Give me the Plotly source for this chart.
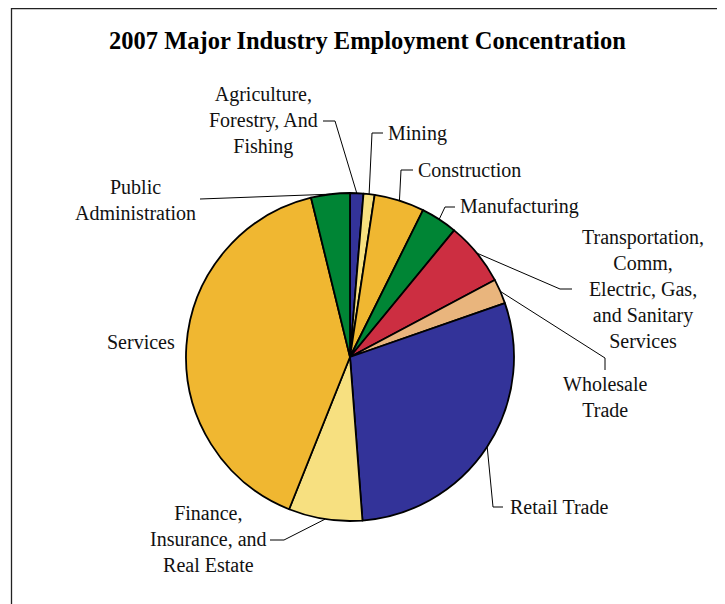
import math
import plotly.graph_objects as go

# ---------------- data ----------------
categories = [
    "Agriculture, Forestry, And Fishing",
    "Mining",
    "Construction",
    "Manufacturing",
    "Transportation, Comm, Electric, Gas, and Sanitary Services",
    "Wholesale Trade",
    "Retail Trade",
    "Finance, Insurance, and Real Estate",
    "Services",
    "Public Administration",
]
shares = [1.31, 1.09, 4.93, 3.60, 6.25, 2.45, 29.06, 7.25, 40.05, 3.81]
label_text = [
    "Agriculture,<br>Forestry, And<br>Fishing",
    "Mining",
    "Construction",
    "Manufacturing",
    "Transportation,<br>Comm,<br>Electric, Gas,<br>and Sanitary<br>Services",
    "Wholesale<br>Trade",
    "Retail Trade",
    "Finance,<br>Insurance, and<br>Real Estate",
    "Services",
    "Public<br>Administration",
]
colors = ["#333399", "#F7E080", "#F0B731", "#008535", "#CC2E41",
          "#E9B57D", "#333399", "#F7E080", "#F0B731", "#008535"]
title = "2007 Major Industry Employment Concentration"

# ---------------- layout (pixels, in screen coordinates) ----------------
W, H = 725, 604
OFF = 8  # page body margin
CX, CY, R = 350, 357, 164

# label placement: (x, y, xanchor, align)
label_pos = [
    (263, 120, "center", "center"),
    (386, 133, "left", "left"),
    (416, 170, "left", "left"),
    (458, 207, "left", "left"),
    (643, 289, "center", "center"),
    (605, 397, "center", "center"),
    (508, 507, "left", "left"),
    (208, 539, "center", "center"),
    (141, 342, "center", "center"),
    (135, 200, "center", "center"),
]
# leader line elbow points (after the anchor on the pie edge)
elbows = [
    [(335, 121), (323, 121)],
    [(372, 133), (383, 133)],
    [(401, 170), (413, 170)],
    [(445, 207), (455, 207)],
    [(560, 289), (572, 289)],
    [(605, 358), (605, 370)],
    [(493, 507), (503, 507)],
    [(284, 540), (270, 540)],
    None,
    [(200, 199)],
]


def px(x):
    return (x - OFF) / W


def py(y):
    return 1 - (y - OFF) / H


fig = go.Figure()
fig.add_trace(go.Pie(
    labels=categories,
    values=shares,
    sort=False,
    direction="clockwise",
    rotation=0,
    marker=dict(colors=colors, line=dict(color="black", width=1.8)),
    textinfo="none",
    hoverinfo="label+percent",
    showlegend=False,
    domain=dict(x=[px(CX - R), px(CX + R)], y=[py(CY + R), py(CY - R)]),
))

shapes = []
annotations = []
total = sum(shares)
cum = 0.0
for i, v in enumerate(shares):
    mid = (cum + v / 2) / total * 2 * math.pi
    cum += v
    ax = CX + R * math.sin(mid)
    ay = CY - R * math.cos(mid)
    if elbows[i]:
        pts = [(ax, ay)] + elbows[i]
        path = "M {} {}".format(px(pts[0][0]), py(pts[0][1]))
        for (x, y) in pts[1:]:
            path += " L {} {}".format(px(x), py(y))
        shapes.append(dict(type="path", xref="paper", yref="paper", path=path,
                           line=dict(color="black", width=1), layer="above"))
    lx, ly, xa, al = label_pos[i]
    annotations.append(dict(
        x=px(lx), y=py(ly), xref="paper", yref="paper", text=label_text[i],
        showarrow=False, xanchor=xa, yanchor="middle", align=al,
        font=dict(family="Liberation Serif", size=20, color="#111111"),
    ))

# title
annotations.append(dict(
    x=px(367), y=py(40), xref="paper", yref="paper", text="<b>" + title + "</b>",
    showarrow=False, xanchor="center", yanchor="middle",
    font=dict(family="Liberation Serif", size=24.5, color="black"),
))

# chart frame
shapes.append(dict(type="rect", xref="paper", yref="paper",
                   x0=px(11.5), x1=px(720), y0=py(630), y1=py(8.5),
                   line=dict(color="#222222", width=1.3), layer="above"))

fig.update_layout(
    width=W, height=H, autosize=False,
    margin=dict(l=0, r=0, t=0, b=0),
    paper_bgcolor="white", plot_bgcolor="white",
    shapes=shapes, annotations=annotations,
)

fig.write_html("out.html")
